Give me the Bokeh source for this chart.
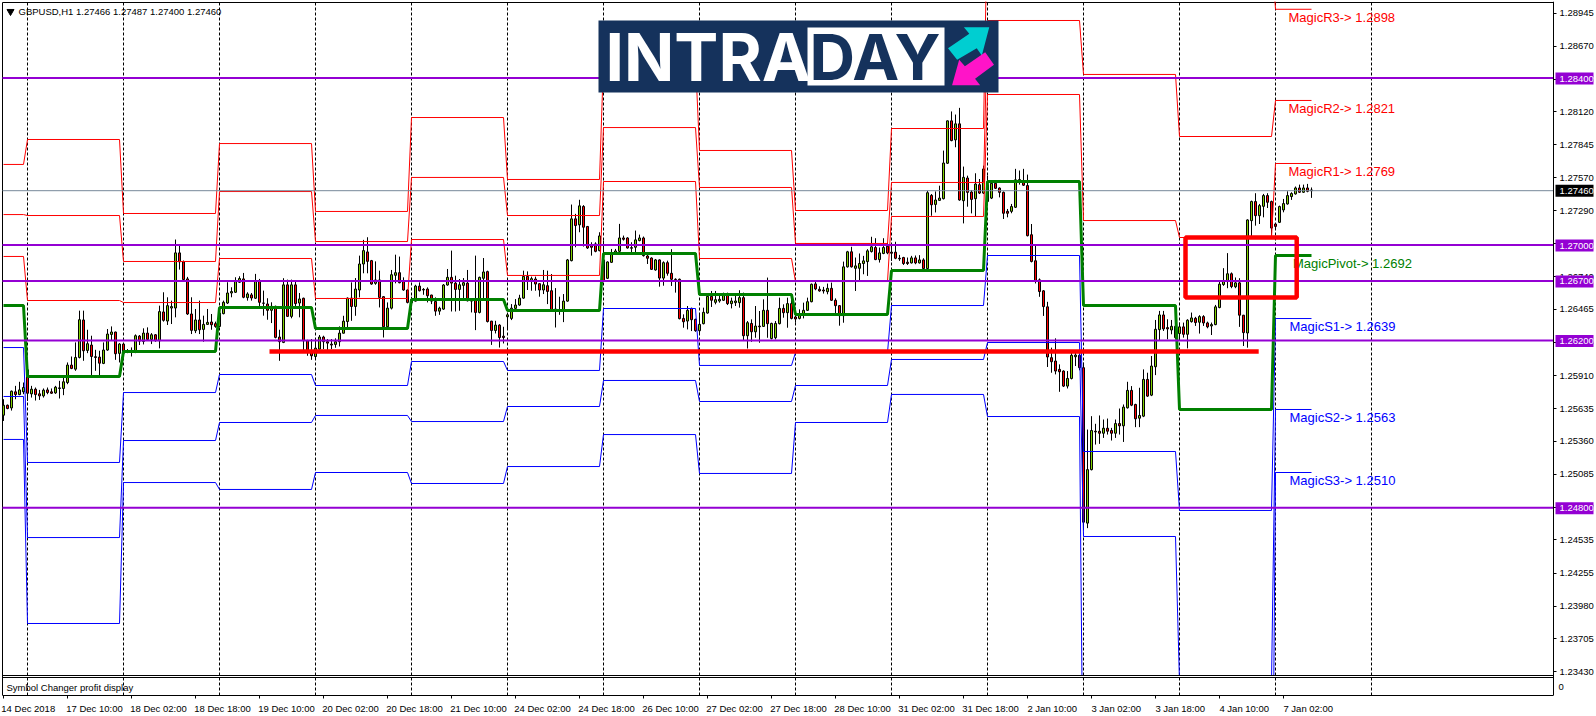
from bokeh.plotting import figure
from bokeh.models import Range1d, FixedTicker, LinearAxis, PrintfTickFormatter
from bokeh.core.properties import value
from bokeh.embed import file_html
from bokeh.resources import INLINE

# ---- chart values: hourly GBPUSD candles, in points (1 point = 0.00001) ----
bar_high = [
125713,125668,125786,125825,125859,125853,125965,125825,125811,125791,
125803,125811,125803,125825,125867,125915,126021,126071,126189,126455,
126455,126295,126245,126127,126119,126189,126301,126323,126279,126183,
126183,126133,126147,126256,126251,126307,126315,126267,126259,126497,
126609,126567,126539,127051,127007,126875,126738,126567,126469,126539,
126413,126469,126427,126363,126483,126539,126693,126651,126735,126743,
126771,126609,126603,126763,126721,126623,126559,126525,126497,126295,
126727,126715,126715,126707,126603,126564,126211,126217,126211,126251,
126245,126217,126217,126223,126323,126412,126566,126692,126728,126916,
127048,127070,126880,126868,126790,126577,126524,126796,126924,126908,
126734,126633,126572,126672,126692,126644,126650,126588,126566,126488,
126678,126804,126958,126748,126720,126728,126796,126560,126916,126740,
126896,126790,126370,126370,126342,126320,126426,126510,126552,126588,
126790,126784,126740,126740,126684,126796,126790,126762,126644,126572,
126594,126888,127344,127266,127384,127339,127165,127028,127028,127112,
127042,126868,126972,126972,127182,127084,127070,127028,127126,127092,
127076,126930,126902,126888,126885,126868,126874,126970,126726,126724,
126424,126494,126480,126388,126424,126480,126581,126620,126620,126578,
126606,126606,126564,126578,126626,126606,126368,126382,126494,126452,
126550,126732,126354,126368,126564,126508,126564,126564,126480,126466,
126522,126564,126682,126704,126659,126654,126682,126690,126558,126502,
126866,126956,126990,126900,126934,126914,126970,127074,127062,126984,
127062,127026,127018,127032,126922,126906,126900,126914,126917,126920,
126894,127460,127432,127454,127502,127796,128048,128124,128098,128154,
127662,127586,127466,127606,127558,127670,127586,127544,127544,127488,
127453,127307,127349,127643,127629,127643,127595,127181,126999,126725,
126627,126529,126145,126223,126005,125955,125949,126103,126103,126095,
126019,125459,125571,125507,125577,125543,125551,125473,125543,125635,
125669,125859,125823,125675,125809,125963,125935,126075,126377,126453,
126453,126383,126377,126453,126355,126355,126383,126439,126403,126417,
126417,126363,126355,126503,126699,126811,126937,126775,126733,126727,
126419,127220,127377,127439,127349,127433,127439,127377,127181,127335,
127391,127455,127447,127495,127511,127511,127517,127487]
bar_low = [
125531,125629,125618,125713,125747,125755,125699,125727,125702,125707,
125727,125755,125758,125758,125719,125747,125839,125965,125951,126055,
126035,126099,125909,125951,125895,126007,126119,126203,126043,126021,
126077,126099,126071,126099,126167,126172,126203,126175,126195,126139,
126363,126335,126343,126399,126799,126707,126419,126259,126267,126259,
126195,126335,126295,126312,126315,126424,126511,126567,126603,126687,
126559,126539,126539,126553,126469,126413,126379,126351,126223,126035,
126183,126402,126391,126469,126399,126119,126077,126043,126043,126127,
126133,126127,126133,126144,126155,126264,126300,126370,126412,126566,
126768,126768,126672,126672,126482,126230,126314,126465,126684,126684,
126622,126516,126510,126532,126616,126588,126524,126510,126412,126420,
126462,126664,126448,126448,126454,126538,126532,126440,126292,126432,
126544,126356,126168,126264,126146,126180,126300,126376,126468,126496,
126555,126628,126622,126622,126572,126594,126510,126460,126314,126420,
126359,126530,126868,126986,127112,126992,126972,126916,126944,126952,
126700,126720,126854,126930,126947,127042,126975,126944,126930,127036,
126908,126846,126796,126790,126656,126664,126748,126662,126606,126382,
126312,126298,126284,126278,126256,126340,126430,126486,126508,126522,
126536,126502,126474,126494,126480,126206,126138,126194,126228,126186,
126318,126228,126214,126214,126340,126396,126312,126382,126354,126382,
126390,126452,126525,126626,126614,126598,126592,126536,126435,126329,
126354,126816,126816,126620,126704,126760,126746,126942,126878,126858,
126928,126928,126872,126886,126872,126838,126838,126850,126844,126850,
126799,126802,127250,127278,127376,127387,127684,127874,127824,127376,
127186,127326,127270,127242,127432,127432,127365,127390,127474,127404,
127223,127237,127271,127315,127511,127500,127077,126859,126683,126571,
126411,125983,125935,125921,125775,125815,125803,125879,125991,125955,
124619,124633,125117,125333,125339,125389,125417,125367,125389,125417,
125355,125635,125655,125479,125479,125563,125733,125739,125915,126201,
126285,126215,126257,126215,126201,126229,126139,126355,126327,126263,
126327,126307,126251,126333,126475,126663,126643,126643,126643,126319,
126159,126145,127080,127167,127181,127237,127315,127083,127147,127189,
127279,127343,127383,127427,127441,127441,127447,127400]
bar_open = [
125579,125663,125640,125775,125752,125775,125959,125758,125797,125758,
125741,125791,125775,125766,125803,125803,125853,125999,125965,126063,
126377,126122,126167,126069,126066,126013,126125,126256,126276,126097,
126175,126116,126105,126105,126242,126197,126267,126214,126253,126203,
126444,126368,126477,126477,126939,126864,126721,126427,126287,126377,
126298,126340,126360,126346,126323,126430,126519,126603,126609,126693,
126721,126564,126587,126559,126699,126519,126511,126458,126491,126234,
126189,126671,126407,126671,126519,126559,126203,126119,126071,126133,
126234,126195,126175,126172,126195,126266,126364,126560,126490,126628,
126846,126947,126874,126684,126712,126572,126320,126476,126751,126773,
126706,126628,126521,126535,126661,126633,126636,126586,126532,126451,
126468,126670,126734,126686,126633,126667,126686,126535,126549,126440,
126726,126782,126367,126289,126334,126241,126404,126390,126474,126502,
126560,126742,126700,126720,126681,126628,126664,126622,126468,126454,
126460,126535,126874,127224,127174,127328,127160,127000,127014,126958,
126880,126726,126860,126938,126952,127064,127064,126983,126986,127042,
127064,126913,126896,126796,126880,126728,126857,126768,126718,126718,
126390,126368,126474,126382,126287,126346,126435,126575,126525,126536,
126542,126598,126514,126522,126522,126564,126245,126348,126278,126326,
126323,126458,126222,126228,126346,126474,126438,126514,126402,126390,
126424,126458,126530,126679,126634,126628,126614,126642,126542,126497,
126413,126822,126948,126810,126810,126850,126866,126950,126984,126883,
126934,126995,126945,126945,126894,126900,126861,126855,126897,126855,
126880,126808,127421,127345,127379,127393,127690,128045,127886,128020,
127376,127566,127449,127393,127510,127440,127510,127398,127522,127482,
127447,127287,127287,127321,127537,127545,127503,127091,126873,126713,
126621,126487,126061,126033,125963,125949,125823,125887,126069,126081,
125977,124675,125123,125445,125445,125428,125470,125451,125428,125509,
125490,125641,125787,125669,125554,125571,125879,125747,125985,126296,
126419,126313,126293,126324,126263,126319,126257,126363,126391,126358,
126405,126352,126327,126338,126481,126674,126699,126764,126655,126688,
126417,126268,127209,127369,127251,127329,127419,127369,127181,127195,
127299,127349,127411,127433,127483,127447,127483,127466]
bar_close = [
125663,125635,125780,125752,125791,125811,125763,125797,125752,125741,
125789,125769,125763,125814,125808,125859,125999,125971,126063,126379,
126119,126178,126071,126063,126015,126125,126259,126276,126094,126175,
126099,126108,126122,126245,126200,126267,126214,126253,126203,126447,
126374,126497,126489,126939,126864,126715,126427,126290,126377,126295,
126340,126357,126337,126323,126435,126525,126603,126615,126699,126724,
126567,126595,126561,126699,126525,126517,126458,126491,126231,126195,
126671,126407,126671,126514,126553,126203,126119,126077,126141,126234,
126195,126183,126167,126195,126267,126367,126560,126490,126636,126846,
126958,126868,126678,126712,126566,126320,126476,126756,126773,126689,
126628,126524,126538,126661,126622,126628,126580,126535,126451,126476,
126670,126734,126686,126633,126672,126689,126538,126549,126440,126734,
126779,126364,126289,126334,126230,126230,126420,126476,126502,126560,
126742,126700,126723,126678,126628,126672,126616,126462,126460,126460,
126535,126880,127224,127168,127333,127154,126980,126986,126952,127081,
126706,126863,126938,126955,127064,127053,126980,126978,127048,127064,
126916,126894,126801,126880,126728,126857,126768,126718,126715,126388,
126362,126458,126379,126287,126340,126441,126575,126542,126547,126550,
126592,126514,126536,126536,126564,126245,126354,126278,126326,126320,
126458,126346,126348,126348,126474,126438,126514,126390,126385,126424,
126458,126530,126676,126637,126620,126620,126642,126542,126497,126413,
126822,126948,126822,126830,126850,126872,126956,126990,126883,126939,
126984,126939,126936,126894,126889,126850,126850,126897,126855,126880,
126808,127443,127342,127382,127398,127692,128045,127880,128020,127382,
127572,127446,127387,127516,127440,127642,127370,127522,127480,127446,
127271,127271,127327,127551,127553,127506,127083,126867,126705,126615,
126489,126067,126027,125949,125943,125823,125887,126081,126083,125977,
124683,125123,125451,125439,125428,125470,125445,125428,125509,125490,
125647,125787,125663,125549,125577,125879,125739,125991,126299,126419,
126302,126302,126324,126229,126319,126257,126375,126394,126355,126405,
126352,126319,126338,126487,126677,126702,126764,126657,126688,126417,
126271,127215,127369,127251,127335,127419,127363,127147,127161,127327,
127352,127419,127436,127483,127447,127483,127455,127460]

# Daily Magic pivot levels, in points; one value per trading session
session_first_bar = [0, 6, 30, 54, 78, 102, 126, 150, 174, 198, 222, 246, 270, 294, 318]
magic_r3 = [127680,127889,127269,127855,127286,128073,127554,128551,127797,127294,127981,129800,129900,129500,128980]
magic_r2 = [127260,127252,126867,127453,127034,127571,127252,127989,127487,127018,127529,128886,128434,127914,128216]
magic_r1 = [126909,126540,126523,126892,126557,127051,126750,127537,126892,126699,127244,128266,127210,127068,127688]
magic_p  = [126498,125903,126113,126481,126306,126548,126456,126934,126590,126423,126791,127537,126498,125627,126917]
magic_s1 = [126146,125183,125769,125920,125828,126029,125954,126473,125996,126104,126498,126917,125275,124781,126389]
magic_s2 = [125736,124554,125367,125518,125577,125526,125652,125870,125694,125828,126046,126188,124563,123340,125627]
magic_s3 = [125376,123834,125015,124957,125099,125007,125149,125417,125091,125518,125753,125568,122000,121000,125099]
magic_names  = ["MagicR3", "MagicR2", "MagicR1", "MagicPivot", "MagicS1", "MagicS2", "MagicS3"]
magic_labels = [1.2898, 1.2821, 1.2769, 1.2692, 1.2639, 1.2563, 1.2510]

# Horizontal price levels and annotations
purple_levels = [1.2840, 1.2700, 1.2670, 1.2620, 1.2480]
last_price = 1.2746
support_price = 1.26113
support_bars = (66.5, 313.8)
box_bars = (295.5, 323.3)
box_prices = (1.26565, 1.27068)
day_bars = [6, 30, 54, 78, 102, 126, 150, 174, 198, 222, 246, 270, 294, 318, 342]
price_ticks = [1.28945, 1.28670, 1.28395, 1.28120, 1.27845, 1.27570, 1.27290, 1.27015, 1.26740,
               1.26465, 1.26190, 1.25910, 1.25635, 1.25360, 1.25085, 1.24810, 1.24535, 1.24255,
               1.23980, 1.23705, 1.23430]
time_bars = list(range(0, 321, 16))
time_labels = ["14 Dec 2018", "17 Dec 10:00", "18 Dec 02:00", "18 Dec 18:00", "19 Dec 10:00", "20 Dec 02:00",
               "20 Dec 18:00", "21 Dec 10:00", "24 Dec 02:00", "24 Dec 18:00", "26 Dec 10:00", "27 Dec 02:00",
               "27 Dec 18:00", "28 Dec 10:00", "31 Dec 02:00", "31 Dec 18:00", "2 Jan 10:00", "3 Jan 02:00",
               "3 Jan 18:00", "4 Jan 10:00", "7 Jan 02:00"]
header = "GBPUSD,H1  1.27466 1.27487 1.27400 1.27460"

assert len(bar_high) == len(bar_low) == len(bar_open) == len(bar_close) == 328

# ---- layout helpers: window pixels <-> data ----
BAR_PX, X0_PX = 4.0, 3.0
PX_PRICE = 8.378e-5
def bar_at(px):
    return (px - X0_PX) / BAR_PX
def price_at(py):
    return 1.284 - (py - 78) * PX_PRICE

UI_FONT = "Liberation Sans"
PT = 1e-5
AXIS_X = bar_at(1553)
x_lo, x_hi = bar_at(1), bar_at(1596)
y_hi, y_lo = price_at(1), price_at(695)
left_edge, top_edge, win_bottom = bar_at(2), price_at(2), price_at(675)

p = figure(width=1596, height=716, output_backend="svg", toolbar_location=None,
           x_range=Range1d(x_lo, x_hi), y_range=Range1d(y_lo, y_hi), y_axis_location=None,
           min_border_left=1, min_border_top=1, min_border_right=0, min_border_bottom=21)
p.grid.visible = False
p.background_fill_color = "white"
p.border_fill_color = "white"
p.outline_line_color = None

# axes
ya = LinearAxis(fixed_location=AXIS_X, ticker=FixedTicker(ticks=price_ticks),
                formatter=PrintfTickFormatter(format="%.5f"))
ya.major_tick_in = 0
ya.major_tick_out = 3
ya.major_tick_line_color = "black"
ya.minor_tick_line_color = None
ya.axis_line_color = "black"
ya.major_label_standoff = 3
ya.major_label_text_font = UI_FONT
ya.major_label_text_font_size = "9.5px"
ya.major_label_text_color = "black"
p.add_layout(ya, "right")

half_width_bars = [len(t) * 4.5 / 2 / BAR_PX for t in time_labels]
major_x = [round(b + h, 2) for b, h in zip(time_bars, half_width_bars)]
xa = p.xaxis[0]
xa.ticker = FixedTicker(ticks=major_x, minor_ticks=time_bars)
xa.major_label_overrides = dict(zip(major_x, time_labels))
xa.bounds = (left_edge, AXIS_X)
xa.major_tick_in = 0
xa.major_tick_out = 0
xa.major_tick_line_color = None
xa.minor_tick_in = 0
xa.minor_tick_out = 3
xa.minor_tick_line_color = "black"
xa.axis_line_color = "black"
xa.major_label_standoff = 4
xa.major_label_text_font = UI_FONT
xa.major_label_text_font_size = "9.5px"
xa.major_label_text_color = "black"

# chart border (left and top)
p.segment(x0=[left_edge, left_edge], x1=[left_edge, AXIS_X], y0=[y_lo, top_edge], y1=[top_edge, top_edge],
          line_color="black", line_width=1)

# day separators
p.segment(x0=day_bars, x1=day_bars, y0=[y_lo] * len(day_bars), y1=[top_edge] * len(day_bars),
          line_color="black", line_width=1, line_dash="3 2")

# candles
bars = list(range(len(bar_close)))
hi = [v * PT for v in bar_high]
lo = [v * PT for v in bar_low]
op = [v * PT for v in bar_open]
cl = [v * PT for v in bar_close]
fills = ["#80d000" if c >= o else "#ff0000" for o, c in zip(op, cl)]
p.segment(x0=bars, x1=bars, y0=lo, y1=hi, line_color="black", line_width=1)
p.vbar(x=bars, width=0.5, bottom=[min(a, b) for a, b in zip(op, cl)], top=[max(a, b) for a, b in zip(op, cl)],
       fill_color=fills, line_color="black", line_width=1)

# session-level lines
def session_line(levels):
    xs, ys = [], []
    ends = session_first_bar[1:] + [len(bars)]
    for first, end, lv in zip(session_first_bar, ends, levels):
        xs += [first, end - 1]
        ys += [lv * PT, lv * PT]
    return xs, ys

for series in (magic_r3, magic_r2, magic_r1):
    xs, ys = session_line(series)
    p.line(xs, ys, line_color="#ff0000", line_width=1)
for series in (magic_s1, magic_s2, magic_s3):
    xs, ys = session_line(series)
    p.line(xs, ys, line_color="#0000ff", line_width=1)
xs, ys = session_line(magic_p)
p.line(xs, ys, line_color="#008000", line_width=3)

# magic labels
magic_colors = ["#ff0000"] * 3 + ["#008000"] + ["#0000ff"] * 3
magic_levels = [s[-1] * PT for s in (magic_r3, magic_r2, magic_r1, magic_p, magic_s1, magic_s2, magic_s3)]
magic_px = [1288, 1288, 1288, 1292.5, 1289, 1289, 1289]
p.text(x=[bar_at(v) for v in magic_px], y=magic_levels,
       text=[f"{n}-> {v:.4f}" for n, v in zip(magic_names, magic_labels)],
       text_color=magic_colors, text_font=value(UI_FONT), text_font_size="13px",
       text_baseline="middle", text_align="left", y_offset=8)

# horizontal levels
n_lv = len(purple_levels)
p.segment(x0=[left_edge], x1=[AXIS_X], y0=[last_price], y1=[last_price], line_color="#778899", line_width=1)
purple_y = [lv + PX_PRICE / 2 for lv in purple_levels]
p.segment(x0=[left_edge] * n_lv, x1=[AXIS_X] * n_lv, y0=purple_y, y1=purple_y, line_color="#9400d3", line_width=2)

# analyst marks
p.segment(x0=[support_bars[0]], x1=[support_bars[1]], y0=[support_price], y1=[support_price],
          line_color="#ff0000", line_width=4.7)
p.quad(left=[box_bars[0]], right=[box_bars[1]], bottom=[box_prices[0]], top=[box_prices[1]],
       fill_color=None, line_color="#ff0000", line_width=4.5)

# indicator sub-window: masks what falls below the main window
p.quad(left=[bar_at(3)], right=[AXIS_X - 0.25], bottom=[y_lo], top=[win_bottom], fill_color="white", line_color=None)
p.segment(x0=day_bars, x1=day_bars, y0=[y_lo] * len(day_bars), y1=[win_bottom] * len(day_bars),
          line_color="black", line_width=1, line_dash="3 2")
sep_y = [win_bottom, price_at(677)]
p.segment(x0=[left_edge] * 2, x1=[AXIS_X] * 2, y0=sep_y, y1=sep_y, line_color="black", line_width=1)
p.text(x=[bar_at(6)], y=[price_at(687)], text=["Symbol Changer profit display"], text_color="black",
       text_font=value(UI_FONT), text_font_size="9.5px", text_baseline="middle")
p.text(x=[bar_at(18)], y=[price_at(11)], text=[header], text_color="black",
       text_font=value(UI_FONT), text_font_size="9.5px", text_baseline="middle")
p.scatter(x=[bar_at(10)], y=[price_at(11)], marker="inverted_triangle", size=7, fill_color="black", line_color="black")
p.text(x=[bar_at(1558)], y=[price_at(686)], text=["0"], text_color="black",
       text_font=value(UI_FONT), text_font_size="9.5px", text_baseline="middle")

# axis price boxes
box_y = purple_levels + [last_price]
box_fill = ["#9400d3"] * n_lv + ["black"]
p.quad(left=[bar_at(1555)] * len(box_y), right=[bar_at(1593)] * len(box_y),
       bottom=[v - 6 * PX_PRICE for v in box_y], top=[v + 6 * PX_PRICE for v in box_y],
       fill_color=box_fill, line_color=None, level="overlay")
p.text(x=[bar_at(1559)] * len(box_y), y=box_y, text=[f"{v:.5f}" for v in box_y], text_color="white",
       text_font=value(UI_FONT), text_font_size="9.5px", text_baseline="middle", level="overlay")

# logo
p.quad(left=[bar_at(598)], right=[bar_at(998)], bottom=[price_at(92)], top=[price_at(20)],
       fill_color="#15325c", line_color=None, level="overlay")
p.quad(left=[bar_at(807)], right=[bar_at(944)], bottom=[price_at(85)], top=[price_at(27)],
       fill_color="white", line_color=None, level="overlay")
p.text(x=[bar_at(605)], y=[price_at(56)], text=["INTRA"], text_color="white", text_font=value("Inter"),
       text_font_style="bold", text_font_size="66px", text_baseline="middle", level="overlay")
p.text(x=[bar_at(809)], y=[price_at(56)], text=["DAY"], text_color="#15325c", text_font=value("Inter"),
       text_font_style="bold", text_font_size="63px", text_baseline="middle", level="overlay")
def lx(z): return bar_at(530 + z / 2.958)
def ly(z): return price_at(z / 3)
cyan = [(1235, 143), (1298, 100), (1282, 80), (1357, 80), (1335, 165), (1320, 143), (1262, 178)]
pink = [(1371, 193), (1315, 235), (1330, 254), (1247, 254), (1268, 178), (1285, 197), (1345, 155)]
p.patch([lx(a) for a, b in cyan], [ly(b) for a, b in cyan], fill_color="#00ced1", line_color=None, level="overlay")
p.patch([lx(a) for a, b in pink], [ly(b) for a, b in pink], fill_color="#ff14c8", line_color=None, level="overlay")

open("out.html", "w").write(file_html(p, INLINE))
